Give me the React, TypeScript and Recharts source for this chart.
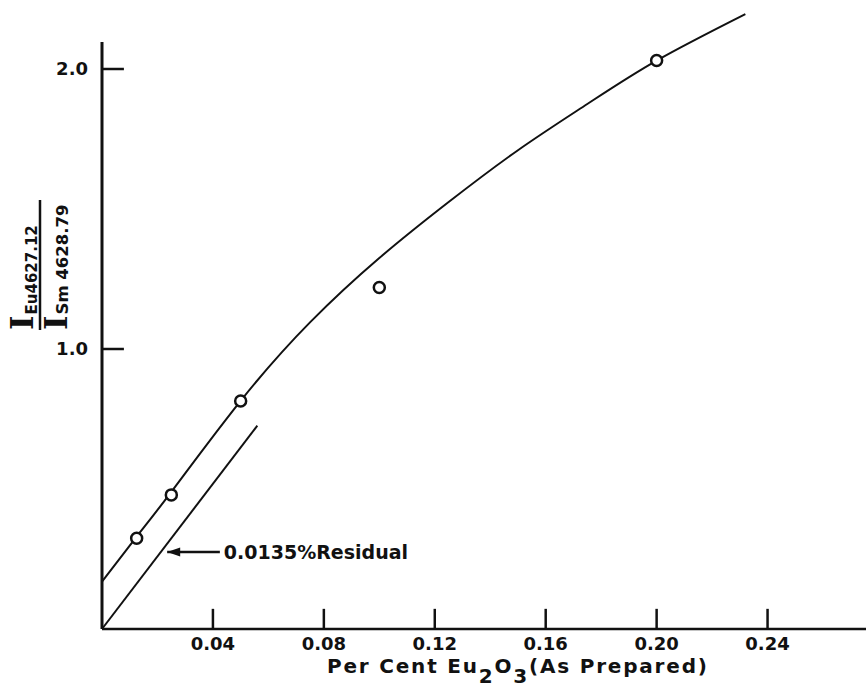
import { ComposedChart, Line, Scatter, XAxis, YAxis, ReferenceLine, ReferenceDot } from "recharts";

// axis ticks
const xTicks = [0.04, 0.08, 0.12, 0.16, 0.2, 0.24];
const xTickLabels = ["0.04", "0.08", "0.12", "0.16", "0.20", "0.24"];
const yTicks = [1, 2];
const yTickLabels = ["1.0", "2.0"];

// measured points (open circles)
const pointX = [0.0125, 0.025, 0.05, 0.1, 0.2];
const pointY = [0.324, 0.479, 0.814, 1.22, 2.03];

// fitted working curve
const curveX = [0, 0.0125, 0.025, 0.05, 0.075, 0.1, 0.125, 0.15, 0.175, 0.2, 0.232];
const curveY = [0.169, 0.33, 0.49, 0.815, 1.095, 1.325, 1.525, 1.71, 1.875, 2.03, 2.196];

// corrected line through origin
const residualX = [0, 0.056];
const residualY = [0, 0.726];

// annotation
const arrowFrom = { x: 0.0425, y: 0.275 };
const arrowTo = { x: 0.0235, y: 0.275 };
const residualText = "0.0135%Residual";

const FONT = "DejaVu Sans";
const INK = "#111";

const points = pointX.map((x, i) => ({ x, y: pointY[i] }));
const curve = curveX.map((x, i) => ({ x, y: curveY[i] }));
const residual = residualX.map((x, i) => ({ x, y: residualY[i] }));

function RatioLabel() {
  return (
    <g fill={INK} fontWeight="bold">
      <text transform="translate(33,330) rotate(-90)" fontSize={31} fontFamily="DejaVu Serif">
        I
        <tspan fontSize={15} fontFamily={FONT} dy={4} dx={1}>Eu4627.12</tspan>
      </text>
      <line x1={40} y1={200} x2={40} y2={330} stroke={INK} strokeWidth={2.5} />
      <text transform="translate(67,330) rotate(-90)" fontSize={31} fontFamily="DejaVu Serif">
        I
        <tspan fontSize={16.5} fontFamily={FONT} dy={1} dx={1}>Sm 4628.79</tspan>
      </text>
    </g>
  );
}

function XTitle() {
  return (
    <text x={327} y={673} fontSize={20} fontFamily={FONT} fontWeight="bold" fill={INK} letterSpacing={1.8}>
      Per Cent Eu<tspan dy={10}>2</tspan><tspan dy={-10}>O</tspan><tspan dy={10}>3</tspan><tspan dy={-10}>(As Prepared)</tspan>
    </text>
  );
}

export default function App() {
  return (
    <div style={{ position: "absolute", left: 0, top: 0, background: "#fff" }}>
      <ComposedChart width={867} height={692} margin={{ top: 13, right: 1, bottom: 0, left: 0 }}>
        <XAxis
          type="number"
          dataKey="x"
          domain={[0, 0.2755]}
          ticks={xTicks}
          tickFormatter={(v: number) => xTickLabels[xTicks.indexOf(v)] ?? ""}
          height={63}
          tickSize={0}
          tickMargin={8}
          tickLine={false}
          axisLine={{ stroke: INK, strokeWidth: 2.5 }}
          tick={{ fill: INK, fontSize: 18, fontFamily: FONT, fontWeight: "bold" }}
          allowDecimals
          label={{ content: () => <XTitle /> }}
        />
        <YAxis
          type="number"
          dataKey="y"
          domain={[0, 2.2]}
          ticks={yTicks}
          tickFormatter={(v: number) => yTickLabels[yTicks.indexOf(v)] ?? ""}
          width={102}
          tickSize={0}
          tickMargin={14}
          tickLine={false}
          axisLine={false}
          tick={{ fill: INK, fontSize: 18, fontFamily: FONT, fontWeight: "bold" }}
          label={{ content: () => <RatioLabel /> }}
        />
        <ReferenceLine segment={[{ x: 0, y: 0 }, { x: 0, y: 2.096 }]} stroke={INK} strokeWidth={3} />
        {yTicks.map((t) => (
          <ReferenceLine key={`yt${t}`} segment={[{ x: 0, y: t }, { x: 0.0079, y: t }]} stroke={INK} strokeWidth={2.5} />
        ))}
        {xTicks.map((t) => (
          <ReferenceLine key={`xt${t}`} segment={[{ x: t, y: 0 }, { x: t, y: 0.072 }]} stroke={INK} strokeWidth={2.5} />
        ))}
        <Line
          data={residual}
          dataKey="y"
          type="linear"
          stroke={INK}
          strokeWidth={2}
          dot={false}
          activeDot={false}
          isAnimationActive={false}
        />
        <Line
          data={curve}
          dataKey="y"
          type="natural"
          stroke={INK}
          strokeWidth={2}
          dot={false}
          activeDot={false}
          isAnimationActive={false}
        />
        <ReferenceLine segment={[arrowTo, arrowFrom]} stroke={INK} strokeWidth={2.5} />
        <ReferenceDot
          x={arrowTo.x}
          y={arrowTo.y}
          r={0}
          shape={(p: any) => (
            <path d={`M${p.cx},${p.cy} L${p.cx + 13},${p.cy - 4.5} L${p.cx + 13},${p.cy + 4.5} Z`} fill={INK} />
          )}
        />
        <ReferenceDot
          x={arrowFrom.x}
          y={arrowFrom.y}
          r={0}
          shape={(p: any) => (
            <text x={p.cx + 4} y={p.cy + 7} fontSize={19} fontFamily={FONT} fontWeight="bold" fill={INK}>
              {residualText}
            </text>
          )}
        />
        <Scatter
          data={points}
          dataKey="y"
          isAnimationActive={false}
          shape={(p: any) => <circle cx={p.cx} cy={p.cy} r={5.5} fill="#fff" stroke={INK} strokeWidth={2.5} />}
        />
      </ComposedChart>
    </div>
  );
}
